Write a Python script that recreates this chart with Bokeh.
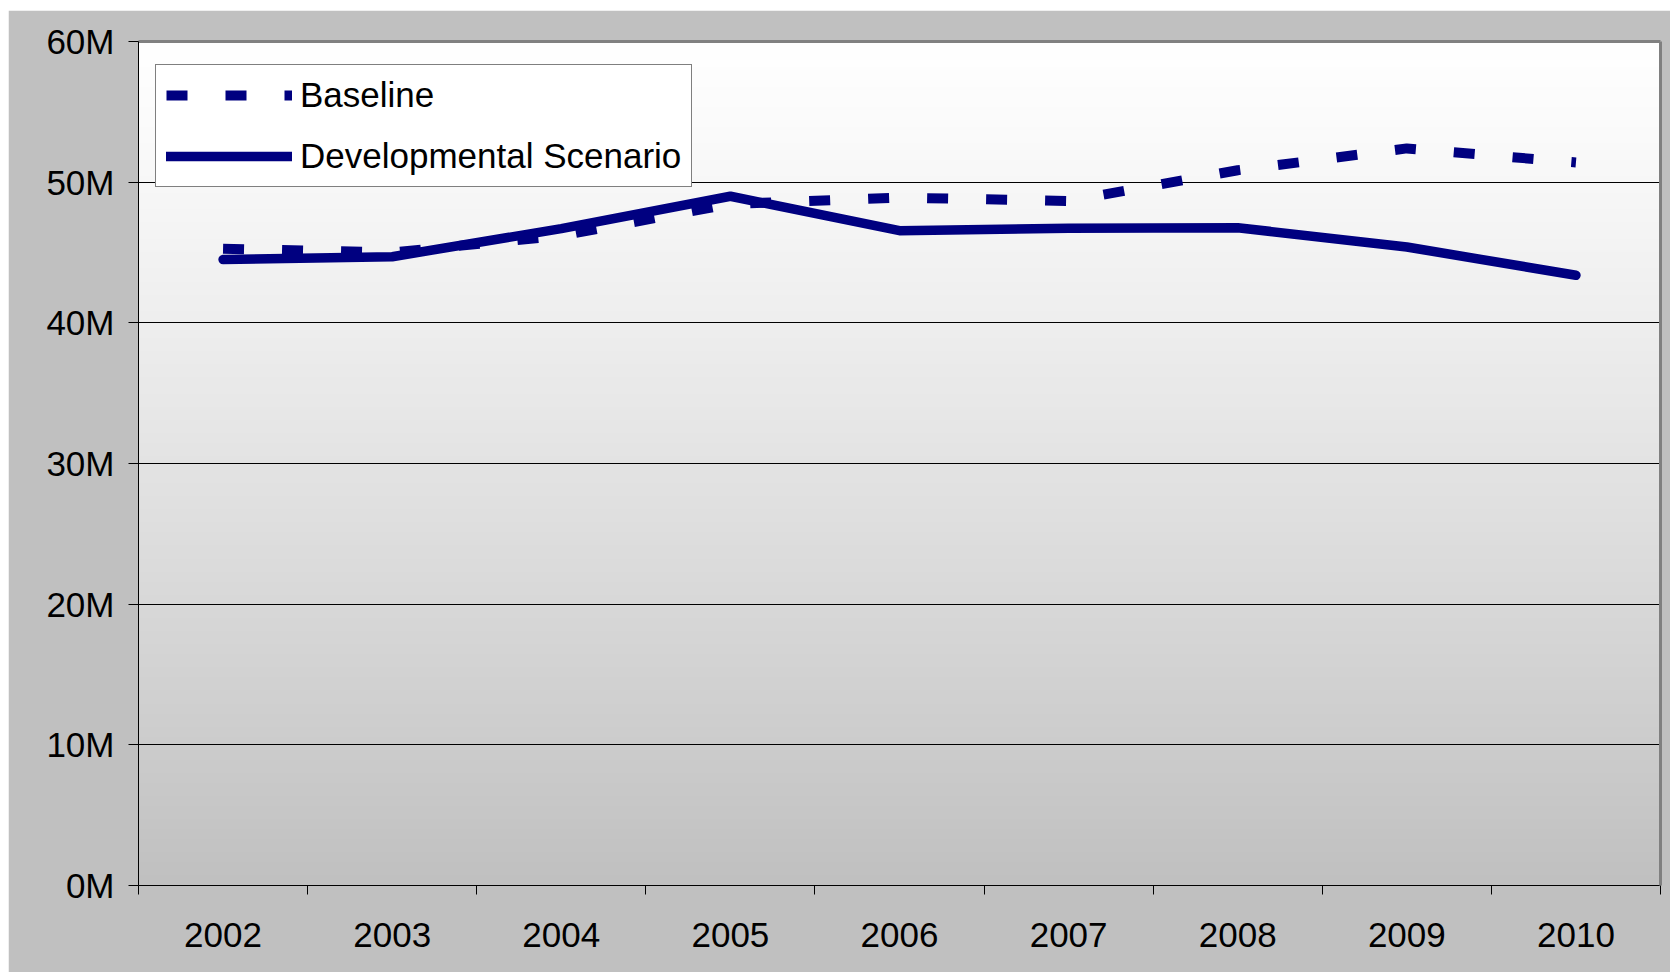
import numpy as np
from bokeh.plotting import figure
from bokeh.models import Range1d, FixedTicker, LinearAxis, Legend, LegendItem
from bokeh.embed import file_html
from bokeh.resources import INLINE

# ---- data ----
years = ["2002", "2003", "2004", "2005", "2006", "2007", "2008", "2009", "2010"]
baseline = [45.27e6, 45.0e6, 46.2e6, 48.45e6, 48.9e6, 48.66e6, 50.85e6, 52.4e6, 51.4e6]
developmental = [44.5e6, 44.7e6, 46.7e6, 49.0e6, 46.55e6, 46.72e6, 46.76e6, 45.39e6, 43.38e6]
y_ticks = [0, 10e6, 20e6, 30e6, 40e6, 50e6, 60e6]
y_tick_labels = ["0M", "10M", "20M", "30M", "40M", "50M", "60M"]
series_names = ["Baseline", "Developmental Scenario"]

# category centres and boundaries on a numeric axis
x_centers = [i + 0.5 for i in range(len(years))]
x_bounds = [float(i) for i in range(len(years) + 1)]

FONT = "Liberation Sans"
NAVY = "#000080"
FS = "35px"

p = figure(width=1662, height=962, output_backend="svg", toolbar_location=None,
           x_range=Range1d(0, len(years)), y_range=Range1d(y_ticks[0], y_ticks[-1]),
           min_border_left=130, min_border_right=10, min_border_top=31, min_border_bottom=87,
           margin=(10, 0, 0, 8))
p.border_fill_color = "#c0c0c0"
p.background_fill_color = "white"
p.outline_line_color = None

# ---- vertical gradient background of the plot area (white -> grey) ----
N = 256
rows = (np.arange(N) + 0.5) / N          # 0 at bottom, 1 at top
t = 1.0 - rows                           # distance from top
g = np.clip(255 - 63 * t ** 1.2, 0, 255).astype(np.uint8)
img = np.zeros((N, 2), dtype=np.uint32)
view = img.view(dtype=np.uint8).reshape((N, 2, 4))
view[:, :, 0] = g[:, None]
view[:, :, 1] = g[:, None]
view[:, :, 2] = g[:, None]
view[:, :, 3] = 255
p.image_rgba(image=[img], x=p.x_range.start, y=p.y_range.start,
             dw=p.x_range.end - p.x_range.start, dh=p.y_range.end - p.y_range.start,
             level="image")

# ---- grid ----
p.xgrid.visible = False
p.ygrid.ticker = FixedTicker(ticks=y_ticks)
p.ygrid.grid_line_color = "black"
p.ygrid.grid_line_width = 1

# ---- lines ----
r_base = p.line(x_centers, baseline, line_color=NAVY, line_width=10,
                line_dash="21 38", line_cap="butt")
r_dev = p.line(x_centers, developmental, line_color=NAVY, line_width=9.5,
               line_cap="round")

# ---- x axis ----
xa = p.xaxis[0]
xa.ticker = FixedTicker(ticks=x_centers, minor_ticks=x_bounds)
xa.major_label_overrides = {xc: yr for xc, yr in zip(x_centers, years)}
xa.major_tick_line_color = None
xa.major_tick_out = 9
xa.major_tick_in = 0
xa.minor_tick_line_color = "black"
xa.minor_tick_out = 9
xa.minor_tick_in = 0
xa.axis_line_color = "black"
xa.axis_line_width = 1
xa.major_label_standoff = 28
xa.major_label_text_font = FONT
xa.major_label_text_font_size = FS
xa.major_label_text_color = "black"

# ---- y axis ----
ya = p.yaxis[0]
ya.ticker = FixedTicker(ticks=y_ticks)
ya.major_label_overrides = {v: s for v, s in zip(y_ticks, y_tick_labels)}
ya.major_tick_line_color = "black"
ya.major_tick_out = 10
ya.major_tick_in = 0
ya.minor_tick_line_color = None
ya.axis_line_color = "black"
ya.axis_line_width = 1
ya.major_label_standoff = 14
ya.major_label_text_font = FONT
ya.major_label_text_font_size = FS
ya.major_label_text_color = "black"

# ---- grey border on top and right of plot area ----
for side in ("above", "right"):
    ax = LinearAxis(ticker=FixedTicker(ticks=[]), axis_line_color="#808080",
                    axis_line_width=3, major_tick_line_color=None,
                    minor_tick_line_color=None, major_tick_out=0, major_tick_in=0,
                    minor_tick_out=0, major_label_text_font_size="0px")
    p.add_layout(ax, side)

# ---- legend ----
legend = Legend(items=[LegendItem(label=series_names[0], renderers=[r_base]),
                       LegendItem(label=series_names[1], renderers=[r_dev])],
                location=(17, 698))
legend.label_text_font = FONT
legend.label_text_font_size = FS
legend.label_text_color = "black"
legend.glyph_width = 126
legend.glyph_height = 40
legend.label_height = 40
legend.label_standoff = 8
legend.padding = 10
legend.spacing = 21
legend.margin = 0
legend.border_line_color = "black"
legend.border_line_width = 1
legend.background_fill_color = "white"
legend.background_fill_alpha = 1.0
p.add_layout(legend)

open("out.html", "w").write(file_html(p, INLINE))
